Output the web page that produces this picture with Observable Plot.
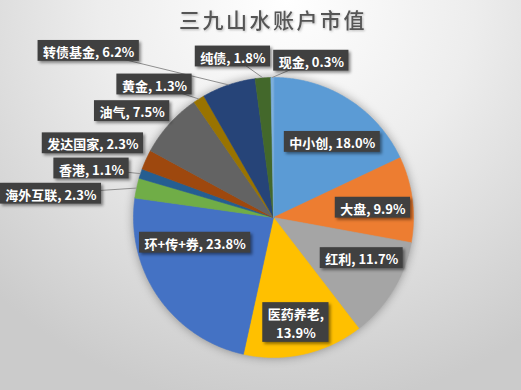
<!DOCTYPE html>
<html><head><meta charset="utf-8">
<script src="https://cdn.jsdelivr.net/npm/d3@7"></script>
<script src="https://cdn.jsdelivr.net/npm/@observablehq/plot@0.6"></script>
<style>
html,body{margin:0;padding:0;background:#fff;}
#chart{width:521px;height:390px;overflow:hidden;
  background:radial-gradient(ellipse 80% 105% at 55% 0%, #ffffff 0%, #ededed 45%, #cbcbcb 100%);}
#chart svg{display:block;}
#chart g[aria-label="line"]{filter:drop-shadow(0 0 5px rgba(0,0,0,0.35));}
#chart g[aria-label="rect"]{filter:drop-shadow(2px 2px 1.5px rgba(0,0,0,0.45));}
</style></head><body><div id="chart"></div>
<script>
const title = "三九山水账户市值";
const categories = ["中小创","大盘","红利","医药养老","环+传+券","海外互联","香港","发达国家","油气","黄金","转债基金","纯债","现金"];
const shares = [18.0, 9.9, 11.7, 13.9, 23.8, 2.3, 1.1, 2.3, 7.5, 1.3, 6.2, 1.8, 0.3];
const colors = ["#5B9BD5","#ED7D31","#A5A5A5","#FFC000","#4472C4","#70AD47","#255E91","#9E480E","#636363","#997300","#264478","#43682B","#7CAFDD"];
// label layout: centre in pie-radius units (x right, y up), leader line flag, wrap flag
const labelX = [0.42, 0.71, 0.63, 0.16, -0.56, -1.59, -1.30, -1.29, -1.01, -0.85, -1.32, -0.29, 0.27];
const labelY = [0.54, 0.07, -0.29, -0.75, -0.18, 0.17, 0.35, 0.53, 0.76, 0.95, 1.19, 1.15, 1.12];
const labelLeader = [false,false,false,false,false,true,true,false,false,true,true,true,true];
const labelWrap = [false,false,false,true,false,false,false,false,false,false,false,false,false];

const W = 521, H = 390, CX = 273, CY = 217, R = 140;
const FONT = '"Noto Sans CJK SC", "Noto Sans", sans-serif';
const FS = 13, LH = 1.45, PAD = 5;

const arcs = d3.pie().sort(null).value(d => d)(shares);
const slicePts = [];
arcs.forEach((a, i) => {
  const name = categories[i];
  slicePts.push({name, x: 0, y: 0});
  const n = Math.max(2, Math.ceil((a.endAngle - a.startAngle) / 0.01));
  for (let k = 0; k <= n; k++) {
    const t = a.startAngle + (a.endAngle - a.startAngle) * k / n;
    slicePts.push({name, x: Math.sin(t), y: Math.cos(t)});
  }
});

const ctx = document.createElement("canvas").getContext("2d");
ctx.font = `bold ${FS}px ${FONT}`;
const labels = categories.map((name, i) => {
  const pct = shares[i].toFixed(1) + "%";
  const text = labelWrap[i] ? `${name},\n${pct}` : `${name}, ${pct}`;
  const lines = text.split("\n");
  const w = d3.max(lines, l => ctx.measureText(l).width);
  const h = lines.length * FS * LH + 2;
  const mid = (arcs[i].startAngle + arcs[i].endAngle) / 2;
  return {name, text, lx: labelX[i], ly: labelY[i], w, h,
          ex: Math.sin(mid), ey: Math.cos(mid), leader: labelLeader[i]};
});

const chart = Plot.plot({
  width: W, height: H, margin: 0,
  style: {background: "transparent", overflow: "visible"},
  x: {domain: [-CX / R, (W - CX) / R], range: [0, W], axis: null},
  y: {domain: [-(H - CY) / R, CY / R], range: [H, 0], axis: null},
  color: {domain: categories, range: colors},
  marks: [
    Plot.line(slicePts, {x: "x", y: "y", z: "name", fill: "name", stroke: "name", strokeWidth: 0.6, curve: "linear-closed"}),
    Plot.link(labels.filter(d => d.leader), {x1: "lx", y1: "ly", x2: "ex", y2: "ey", stroke: "#8f8f8f", strokeWidth: 1}),
    Plot.rect(labels, {
      x1: d => d.lx - (d.w / 2 + PAD) / R, x2: d => d.lx + (d.w / 2 + PAD) / R,
      y1: d => d.ly - (d.h / 2) / R, y2: d => d.ly + (d.h / 2) / R,
      fill: "#404040"
    }),
    Plot.text(labels, {x: "lx", y: "ly", text: "text", fill: "white", fontSize: FS, fontWeight: "bold", fontFamily: FONT, lineHeight: LH}),
    Plot.text([title], {frameAnchor: "top", dx: 12, dy: 21, lineAnchor: "middle", fontSize: 21, fontWeight: 500, fill: "#555555", fontFamily: FONT})
  ]
});
document.getElementById("chart").appendChild(chart);
const tg = chart.querySelectorAll('g[aria-label="text"]');
const titleG = tg[tg.length - 1];
titleG.setAttribute("letter-spacing", "2.5");
titleG.style.filter = "drop-shadow(1px 1px 1px rgba(0,0,0,0.25))";
</script></body></html>
